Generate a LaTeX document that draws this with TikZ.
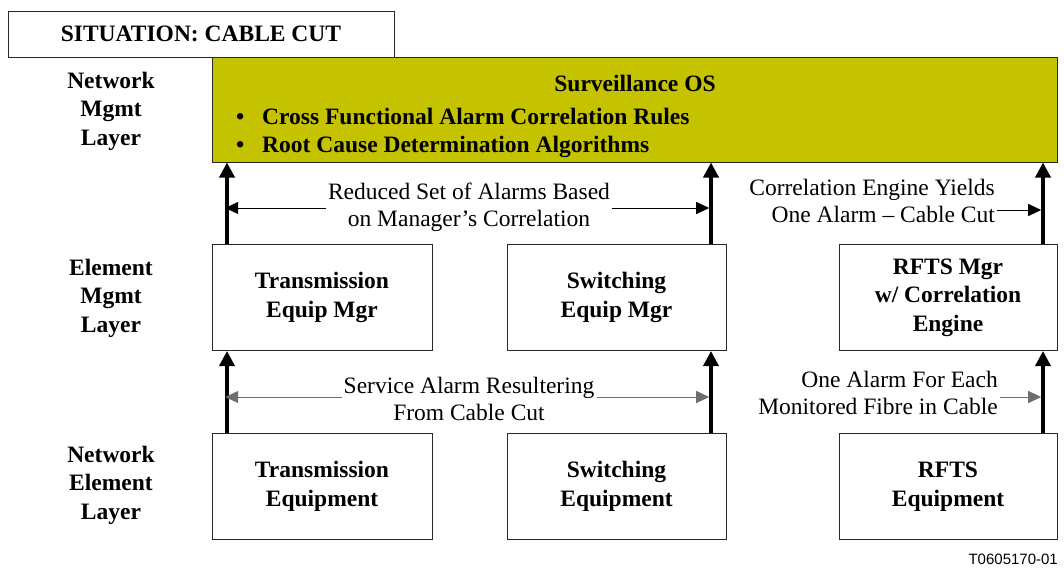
\documentclass[tikz,border=0pt]{standalone}
\usepackage{fontspec}
\setmainfont{Liberation Serif}
\setsansfont{Liberation Sans}
\usetikzlibrary{arrows.meta}
\definecolor{osfill}{RGB}{197,194,0}
\definecolor{edge}{RGB}{40,40,40}
\definecolor{faint}{RGB}{110,110,110}
\begin{document}
\begin{tikzpicture}[x=1pt,y=-1pt,
  every node/.style={font=\fontsize{23.5}{28.5}\selectfont, align=center, inner sep=0pt},
  lbl/.style={font=\fontsize{23.5}{28.5}\selectfont\bfseries},
  note/.style={font=\fontsize{23.5}{27}\selectfont, inner sep=2pt},
  box/.style={draw=edge, line width=1pt, font=\fontsize{23.5}{28.5}\selectfont\bfseries,
    minimum height=106pt},
  uparrow/.style={line width=3.6pt, -{Triangle[length=15pt,width=15pt]}},
  sidearrow/.style={line width=1pt, -{Triangle[length=13pt,width=12pt]}, shorten >=-1.8pt},
]
\useasboundingbox (0,0) rectangle (1064,568);

% header and layer names
\node[box, minimum width=386pt, minimum height=46pt] (sit) at (201,34) {SITUATION: CABLE CUT};
\node[lbl] (nmlayer) at (111,111) {Network\\Mgmt\\Layer};
\node[lbl] (emlayer) at (111,298) {Element\\Mgmt\\Layer};
\node[lbl] (nelayer) at (111,485) {Network\\Element\\Layer};

% surveillance OS
\node[box, fill=osfill, minimum width=845pt, minimum height=105pt] (sos) at (634.5,109.5) {};
\node[lbl] (sostitle) at (635,83) {Surveillance OS};
\node[lbl, anchor=west, align=left] (sosrules) at (236,133)
  {\makebox[26pt][l]{\textbullet}Cross Functional Alarm Correlation Rules\\
   \makebox[26pt][l]{\textbullet}Root Cause Determination Algorithms};

% element management boxes
\node[box, minimum width=220pt] (tem) at (322,297.5) {Transmission\\Equip Mgr};
\node[box, minimum width=219pt] (sem) at (616.5,297.5) {Switching\\Equip Mgr};
\node[box, minimum width=218pt] (rem) at (948,297.5) {RFTS Mgr\\w/ Correlation\\Engine};

% network element boxes
\node[box, minimum width=220pt] (teq) at (322,486.5) {Transmission\\Equipment};
\node[box, minimum width=219pt] (seq) at (616.5,486.5) {Switching\\Equipment};
\node[box, minimum width=218pt] (req) at (948,486.5) {RFTS\\Equipment};

% columns of the vertical alarm flows
\coordinate (ax1) at (227,0);
\coordinate (ax2) at (711,0);
\coordinate (ax3) at (1043,0);

\draw[uparrow] (teq.north -| ax1) -- (tem.south -| ax1);
\draw[uparrow] (seq.north -| ax2) -- (sem.south -| ax2);
\draw[uparrow] (req.north -| ax3) -- (rem.south -| ax3);
\draw[uparrow] (tem.north -| ax1) -- (sos.south -| ax1);
\draw[uparrow] (sem.north -| ax2) -- (sos.south -| ax2);
\draw[uparrow] (rem.north -| ax3) -- (sos.south -| ax3);

% flow notes
\node[note] (noteA) at (469,207) {Reduced Set of Alarms Based\\on Manager{\char"27}s Correlation};
\node[note, anchor=east, align=right] (noteB) at (997,201) {Correlation Engine Yields\\One Alarm -- Cable Cut};
\node[note] (noteC) at (469,399) {Service Alarm Resultering\\From Cable Cut};
\node[note, anchor=east, align=right] (noteD) at (1000,393) {One Alarm For Each\\Monitored Fibre in Cable};

\draw[sidearrow] ([shift={(0,1)}]noteA.west) -- ([shift={(0,1)}]noteA.west -| ax1);
\draw[sidearrow, shorten >=1.8pt] ([shift={(0,1)}]noteA.east) -- ([shift={(0,1)}]noteA.east -| ax2);
\draw[sidearrow, shorten >=1.8pt] ([shift={(0,9)}]noteB.east) -- ([shift={(0,9)}]noteB.east -| ax3);
\draw[sidearrow, draw=faint] ([shift={(0,-2)}]noteC.west) -- ([shift={(0,-2)}]noteC.west -| ax1);
\draw[sidearrow, draw=faint, shorten >=1.8pt] ([shift={(0,-2)}]noteC.east) -- ([shift={(0,-2)}]noteC.east -| ax2);
\draw[sidearrow, draw=faint, shorten >=1.8pt] ([shift={(0,4)}]noteD.east) -- ([shift={(0,4)}]noteD.east -| ax3);

% figure number
\node[font=\sffamily\fontsize{15}{18}\selectfont, anchor=east] (fignum) at (1058,559) {T0605170-01};
\end{tikzpicture}
\end{document}
